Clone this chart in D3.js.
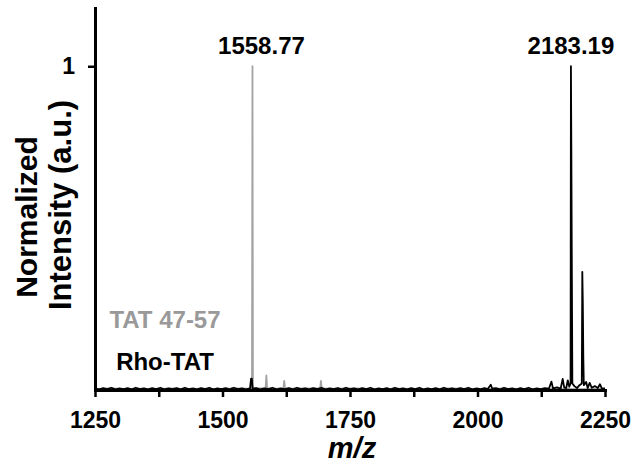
<!DOCTYPE html>
<html>
<head>
<meta charset="utf-8">
<script src="https://cdn.jsdelivr.net/npm/d3@7"></script>
<style>
  html, body { margin: 0; padding: 0; background: #fff; }
  svg { display: block; font-family: "Liberation Sans", Arial, sans-serif; }
</style>
</head>
<body>
<svg id="chart" width="635" height="470"></svg>
<script>
// m/z axis ticks (every 125, labelled every 250)
const xTicks = [1250, 1375, 1500, 1625, 1750, 1875, 2000, 2125, 2250];
const xTickLabels = [1250, 1500, 1750, 2000, 2250];
const yTicks = [1];

// TAT 47-57 spectrum profile: [m/z, normalized intensity]
const tatProfile = [
  [1250, 0.003], [1280, 0.005], [1310, 0.003], [1340, 0.004], [1370, 0.003],
  [1400, 0.005], [1430, 0.003], [1460, 0.004], [1490, 0.003], [1520, 0.005],
  [1545, 0.004], [1557.8, 0.005], [1558.77, 1.0], [1559.7, 0.005], [1575, 0.005],
  [1584.5, 0.006], [1586, 0.045], [1587.5, 0.006], [1600, 0.004], [1619.5, 0.005],
  [1621, 0.028], [1622.5, 0.005], [1640, 0.004], [1660, 0.005], [1691.5, 0.005],
  [1693, 0.028], [1694.5, 0.005], [1720, 0.004], [1760, 0.005], [1800, 0.003],
  [1850, 0.004], [1900, 0.003], [1950, 0.005], [2000, 0.003], [2050, 0.004],
  [2100, 0.003], [2150, 0.004], [2200, 0.003], [2250, 0.004]
];

// Rho-TAT spectrum profile: [m/z, normalized intensity]
const rhoTatProfile = [
  [1250, 0.005], [1258, 0.002], [1266, 0.006], [1274, 0.003], [1282, 0.007],
  [1290, 0.002], [1298, 0.005], [1306, 0.003], [1314, 0.006], [1322, 0.002],
  [1330, 0.007], [1338, 0.003], [1346, 0.005], [1354, 0.002], [1362, 0.006],
  [1370, 0.003], [1378, 0.007], [1386, 0.002], [1394, 0.005], [1402, 0.003],
  [1410, 0.006], [1418, 0.002], [1426, 0.007], [1434, 0.003], [1442, 0.005],
  [1450, 0.002], [1458, 0.006], [1466, 0.003], [1474, 0.007], [1482, 0.002],
  [1490, 0.005], [1498, 0.003], [1506, 0.006], [1514, 0.002], [1522, 0.007],
  [1530, 0.003], [1538, 0.005], [1546, 0.002], [1554, 0.005], [1556, 0.035],
  [1557.5, 0.035], [1559, 0.004], [1566, 0.006], [1574, 0.002], [1582, 0.005],
  [1590, 0.003], [1598, 0.007], [1606, 0.002], [1614, 0.005], [1622, 0.003],
  [1630, 0.006], [1638, 0.002], [1646, 0.007], [1654, 0.003], [1662, 0.005],
  [1670, 0.002], [1678, 0.006], [1686, 0.003], [1694, 0.007], [1702, 0.002],
  [1710, 0.005], [1718, 0.003], [1726, 0.006], [1734, 0.002], [1742, 0.007],
  [1750, 0.003], [1758, 0.005], [1766, 0.002], [1774, 0.006], [1782, 0.003],
  [1790, 0.007], [1798, 0.002], [1806, 0.005], [1814, 0.003], [1822, 0.006],
  [1830, 0.002], [1838, 0.007], [1846, 0.003], [1854, 0.005], [1862, 0.002],
  [1870, 0.006], [1878, 0.003], [1886, 0.007], [1894, 0.002], [1902, 0.005],
  [1910, 0.003], [1918, 0.006], [1926, 0.002], [1934, 0.007], [1942, 0.003],
  [1950, 0.005], [1958, 0.002], [1966, 0.006], [1974, 0.003], [1982, 0.007],
  [1990, 0.002], [1998, 0.005], [2006, 0.003], [2014, 0.006], [2020, 0.003],
  [2026, 0.016], [2029, 0.004], [2036, 0.006], [2044, 0.002], [2052, 0.007],
  [2060, 0.003], [2068, 0.005], [2076, 0.002], [2084, 0.006], [2092, 0.003],
  [2100, 0.007], [2108, 0.002], [2116, 0.005], [2124, 0.003], [2132, 0.006],
  [2140, 0.004], [2145, 0.026], [2148, 0.005], [2156, 0.008], [2163, 0.004],
  [2167, 0.034], [2170, 0.008], [2174, 0.006], [2177, 0.03], [2180, 0.01],
  [2182.5, 0.02], [2183.19, 1.0], [2184, 0.75], [2185, 0.37], [2186, 0.02],
  [2190, 0.012], [2195, 0.006], [2200, 0.015], [2204.5, 0.02], [2205.5, 0.365],
  [2206.5, 0.27], [2207.5, 0.1], [2208.5, 0.015], [2213, 0.025], [2216, 0.006],
  [2220, 0.022], [2224, 0.007], [2230, 0.012], [2236, 0.006], [2240, 0.018],
  [2244, 0.004], [2250, 0.005]
];

// Annotated peaks
const peakMz = [1558.77, 2183.19];
const peakIntensity = [1.0, 1.0];
const peakLabels = ["1558.77", "2183.19"];
const peakLabelShift = [9, 0];

// Legend entries
const seriesNames = ["TAT 47-57", "Rho-TAT"];
const seriesColors = ["#a3a3a3", "#000000"];
const legendColors = ["#999999", "#000000"];

const svg = d3.select("#chart");

const x = d3.scaleLinear().domain([1250, 2250]).range([95, 605]);
const y = d3.scaleLinear().domain([0, 1.18]).range([390, 8]);

const line = d3.line().x(d => x(d[0])).y(d => y(d[1]));

// spectra
svg.append("path")
  .datum(tatProfile)
  .attr("d", line)
  .attr("fill", "none")
  .attr("stroke", seriesColors[0])
  .attr("stroke-width", 1.8)
  .attr("stroke-linejoin", "round");

svg.append("path")
  .datum(rhoTatProfile)
  .attr("d", line)
  .attr("fill", "none")
  .attr("stroke", seriesColors[1])
  .attr("stroke-width", 1.8)
  .attr("stroke-linejoin", "round");

// axes
const xAxis = d3.axisBottom(x)
  .tickValues(xTicks)
  .tickSize(7)
  .tickSizeOuter(0)
  .tickPadding(15)
  .tickFormat(d => xTickLabels.includes(d) ? d : "");

const gx = svg.append("g")
  .attr("transform", `translate(0,${y(0)})`)
  .call(xAxis);

const yAxis = d3.axisLeft(y)
  .tickValues(yTicks)
  .tickSize(7)
  .tickSizeOuter(0)
  .tickPadding(13)
  .tickFormat(d3.format("d"));

const gy = svg.append("g")
  .attr("transform", `translate(${x(1250)},0)`)
  .call(yAxis);

[gx, gy].forEach(g => {
  g.select(".domain").attr("stroke", "#000").attr("stroke-width", 3).attr("stroke-linecap", "square");
  g.selectAll(".tick line").attr("stroke", "#000").attr("stroke-width", 2.5);
  g.selectAll(".tick text")
    .attr("fill", "#000")
    .style("font-size", "23px")
    .style("font-weight", "bold")
    .style("font-family", "'Liberation Sans', Arial, sans-serif");
});

// peak labels
svg.selectAll(".peak-label")
  .data(peakMz)
  .join("text")
  .attr("class", "peak-label")
  .attr("x", (d, i) => x(d) + peakLabelShift[i])
  .attr("y", (d, i) => y(peakIntensity[i]) - 12)
  .attr("text-anchor", "middle")
  .style("font-size", "24px")
  .style("font-weight", "bold")
  .attr("fill", "#000")
  .text((d, i) => peakLabels[i]);

// axis titles
svg.append("text")
  .attr("transform", "translate(37,217) rotate(-90)")
  .attr("text-anchor", "middle")
  .style("font-size", "30px")
  .style("font-weight", "bold")
  .text("Normalized");

svg.append("text")
  .attr("transform", "translate(71,205) rotate(-90)")
  .attr("text-anchor", "middle")
  .style("font-size", "31px")
  .style("font-weight", "bold")
  .text("Intensity (a.u.)");

svg.append("text")
  .attr("x", 352)
  .attr("y", 458)
  .attr("text-anchor", "middle")
  .style("font-size", "29px")
  .style("font-weight", "bold")
  .style("font-style", "italic")
  .text("m/z");

// legend
svg.selectAll(".legend")
  .data(seriesNames)
  .join("text")
  .attr("class", "legend")
  .attr("x", 165)
  .attr("y", (d, i) => 328 + i * 42)
  .attr("text-anchor", "middle")
  .style("font-size", "24px")
  .style("font-weight", "bold")
  .attr("fill", (d, i) => legendColors[i])
  .text(d => d);
</script>
</body>
</html>
